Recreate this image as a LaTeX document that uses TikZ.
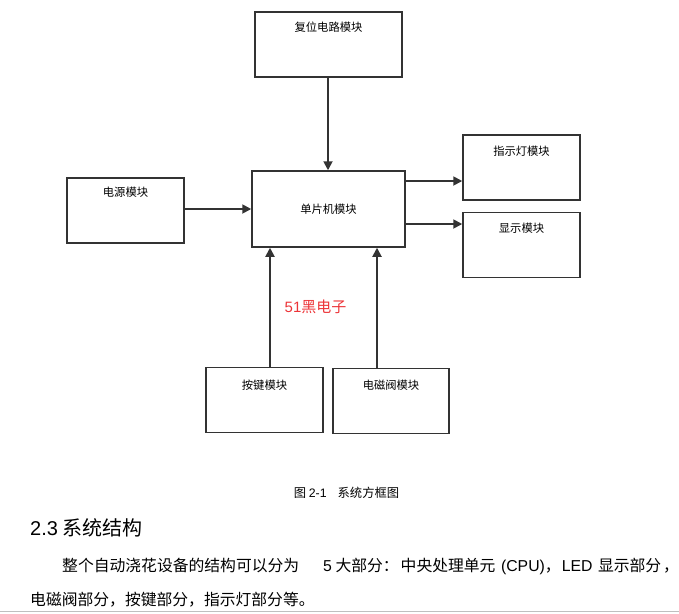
\documentclass[tikz,border=0pt]{standalone}
\usepackage{fontspec}
\setmainfont{Noto Sans CJK SC}
\newfontfamily\lat{Liberation Sans}
\usetikzlibrary{arrows.meta}
\definecolor{wmred}{RGB}{236,52,56}
\begin{document}
\begin{tikzpicture}[x=1pt,y=-1pt,>={Triangle[length=9pt,width=9pt]},font=\fontsize{11.3}{13}\selectfont]
        \tikzset{box/.style={draw=black!80, line width=1.5pt, minimum width=#1, minimum height=65pt, inner sep=0pt},
                 box/.default=117pt,
                 tag/.style={anchor=north, inner sep=0pt, yshift=-10pt},
                 link/.style={draw=black!80, line width=1.8pt, ->}}
        \useasboundingbox (0,0) rectangle (679,613);
        % blocks
        \node[box=147pt, label={[tag]north:复位电路模块}] (reset) at (328.5,44.5) {};
        \node[box, label={[tag]north:电源模块}] (power) at (125.5,210.5) {};
        \node[box=153pt, minimum height=76pt] (mcu) at (328.5,209) {单片机模块};
        \node[box, label={[tag,yshift=-2pt]north:指示灯模块}] (led) at (521.5,167.5) {};
        \node[box, label={[tag,yshift=-1pt]north:显示模块}] (disp) at (521.5,245) {};
        \node[box, label={[tag,yshift=-3pt]north:按键模块}] (key) at (264.5,400) {};
        \node[box=116pt, label={[tag,yshift=-2pt]north:电磁阀模块}] (valve) at (391,401) {};
        % connections
        \draw[link] (reset.south -| 328,0) -- (mcu.north -| 328,0);
        \draw[link] (power.east |- 0,209) -- (mcu.west |- 0,209);
        \draw[link] (mcu.east |- 0,181) -- (led.west |- 0,181);
        \draw[link] (mcu.east |- 0,224) -- (disp.west |- 0,224);
        \draw[link] (key.north -| 270,0) -- (mcu.south -| 270,0);
        \draw[link] (valve.north -| 377,0) -- (mcu.south -| 377,0);
        \node[text=wmred, font=\fontsize{15}{17}\selectfont, inner sep=0pt] (mark) at (315.5,307) {{\lat 51}黑电子};
        % caption and text
        \node[font=\fontsize{12.3}{14}\selectfont, inner sep=0pt] (cap) at (346.5,493) {图 {\lat 2-1}\hspace{11pt}系统方框图};
        \node[font=\fontsize{20}{22}\selectfont, anchor=west, inner sep=0pt] (head) at (30,528) {{\lat 2.3} 系统结构};
        \node[font=\fontsize{15.8}{18}\selectfont, anchor=west, inner sep=0pt] (line1) at (62,566)
            {整个自动浇花设备的结构可以分为\hspace{24pt}{\lat 5} 大部分：\hspace{2pt}中央处理单元\hspace{2pt} {\lat (CPU)}，\hspace{1pt}{\lat LED}\hspace{2pt} 显示部分\hspace{2pt}，};
        \node[font=\fontsize{15.8}{18}\selectfont, anchor=west, inner sep=0pt] (line2) at (30,600)
            {电磁阀部分，按键部分，指示灯部分等。};
        \draw[black!25, line width=1.2pt] (0,611.5) -- (679,611.5);
    \end{tikzpicture}
\end{document}
